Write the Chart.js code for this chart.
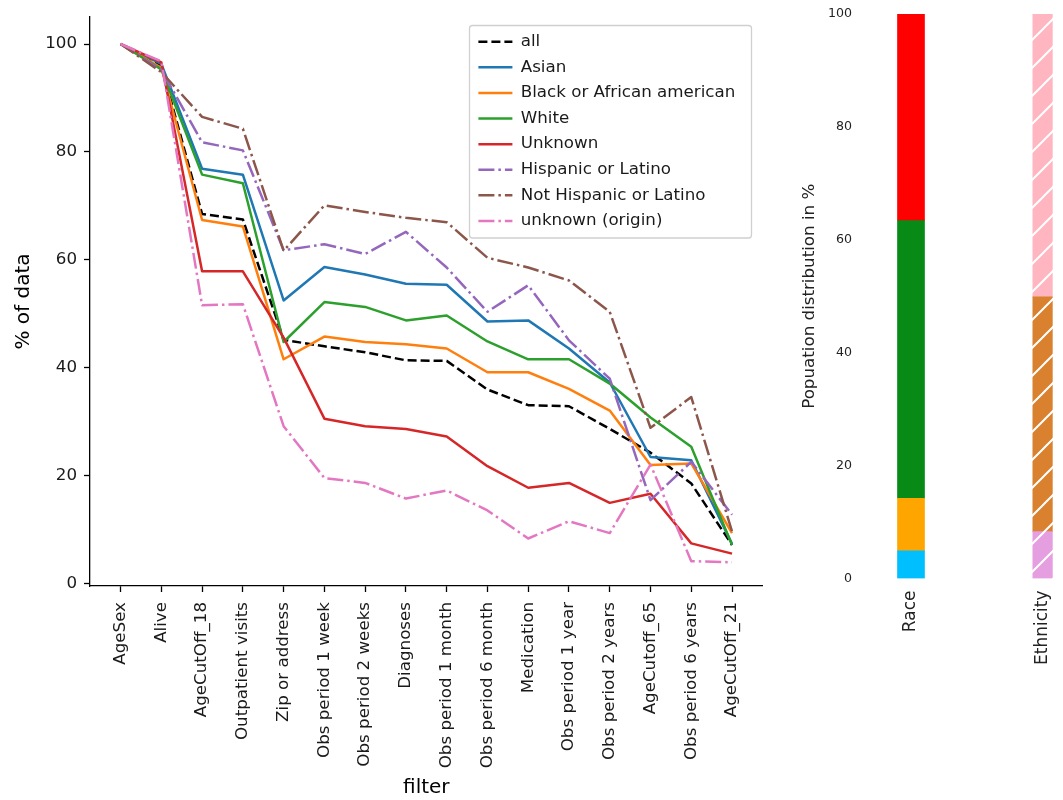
<!DOCTYPE html>
<html>
<head>
<meta charset="utf-8">
<script src="https://cdn.jsdelivr.net/npm/chart.js@4.4.0/dist/chart.umd.min.js"></script>
<style>
    body { margin: 0; background: #fff; width: 1063px; height: 800px; overflow: hidden; position: relative; }
    canvas { position: absolute; top: 0; }
</style>
</head>
<body>
<canvas id="filterChart" width="780" height="800" style="left:0"></canvas>
<canvas id="raceChart" width="180" height="800" style="left:780px"></canvas>
<canvas id="ethnicityChart" width="103" height="800" style="left:960px"></canvas>
<script>
// filtres appliqués (axe x)
const filters = ['AgeSex', 'Alive', 'AgeCutOff_18', 'Outpatient visits', 'Zip or address',
    'Obs period 1 week', 'Obs period 2 weeks', 'Diagnoses', 'Obs period 1 month',
    'Obs period 6 month', 'Medication', 'Obs period 1 year', 'Obs period 2 years',
    'AgeCutoff_65', 'Obs period 6 years', 'AgeCutOff_21'];

// % of data restant après chaque filtre
const allData      = [100, 96.0, 68.5, 67.5, 45.2, 44.0, 42.9, 41.4, 41.3, 36.0, 33.1, 32.9, 28.7, 24.3, 18.6, 7.2];
const asian        = [100, 96.3, 76.9, 75.8, 52.5, 58.7, 57.3, 55.6, 55.4, 48.6, 48.8, 43.6, 37.3, 23.5, 22.9, 7.4];
const blackAfrican = [100, 95.6, 67.4, 66.2, 41.6, 45.8, 44.8, 44.4, 43.6, 39.2, 39.2, 36.1, 32.1, 22.0, 22.3, 9.4];
const white        = [100, 95.3, 75.8, 74.2, 44.8, 52.2, 51.3, 48.8, 49.7, 44.9, 41.6, 41.6, 37.1, 30.8, 25.4, 7.2];
const unknownRace  = [100, 96.6, 57.9, 57.9, 45.6, 30.6, 29.2, 28.7, 27.3, 21.8, 17.8, 18.7, 15.0, 16.7, 7.5, 5.6];
const hispanic     = [100, 95.2, 81.8, 80.3, 61.8, 62.9, 61.1, 65.2, 58.6, 50.4, 55.3, 45.1, 38.0, 15.5, 22.6, 12.8];
const notHispanic  = [100, 94.8, 86.5, 84.3, 61.7, 70.1, 68.9, 67.8, 67.0, 60.4, 58.6, 56.2, 50.4, 28.9, 34.6, 9.7];
const unknownOrigin = [100, 96.8, 51.6, 51.8, 29.2, 19.6, 18.7, 15.8, 17.3, 13.6, 8.4, 11.6, 9.4, 22.1, 4.2, 4.0];

const yTicks = [0, 20, 40, 60, 80, 100];

// distribution de la population (barres empilées)
const raceGroups = ['Asian', 'Black or African american', 'White', 'Unknown'];
const raceShares = [4.9, 9.3, 49.2, 36.6];
const ethnicityGroups = ['Hispanic or Latino', 'Not Hispanic or Latino', 'unknown (origin)'];
const ethnicityShares = [8.3, 41.6, 50.1];
const distTicks = [0, 20, 40, 60, 80, 100];

Chart.defaults.font.family = 'DejaVu Sans';
Chart.defaults.color = '#000';

const dashed = [9, 4];
const dashDot = [16, 4, 2.5, 4];

const series = [
    { label: 'all', data: allData, color: '#000000', dash: dashed },
    { label: 'Asian', data: asian, color: '#1f77b4', dash: [] },
    { label: 'Black or African american', data: blackAfrican, color: '#ff7f0e', dash: [] },
    { label: 'White', data: white, color: '#2ca02c', dash: [] },
    { label: 'Unknown', data: unknownRace, color: '#d62728', dash: [] },
    { label: 'Hispanic or Latino', data: hispanic, color: '#9467bd', dash: dashDot },
    { label: 'Not Hispanic or Latino', data: notHispanic, color: '#8c564b', dash: dashDot },
    { label: 'unknown (origin)', data: unknownOrigin, color: '#e377c2', dash: dashDot }
];

// légende dans le graphique, avec son cadre
const legendFrame = {
    id: 'legendFrame',
    afterLayout(chart) {
        const lg = chart.legend;
        lg.left = 469.5;
        lg.top = 24.5;
        lg.right = lg.left + lg.width;
        lg.bottom = lg.top + lg.height;
    },
    beforeDraw(chart) {
        const ctx = chart.ctx;
        ctx.save();
        ctx.beginPath();
        ctx.roundRect(469.5, 25.5, 282, 212.5, 3);
        ctx.fillStyle = 'rgba(255,255,255,0.8)';
        ctx.fill();
        ctx.strokeStyle = '#d0d0d0';
        ctx.lineWidth = 1.3;
        ctx.stroke();
        ctx.restore();
    }
};

// les items de légende reprennent le tireté des lignes
function lineLabels(chart) {
    const items = Chart.defaults.plugins.legend.labels.generateLabels(chart);
    items.forEach(item => {
        const ds = chart.data.datasets[item.datasetIndex];
        item.lineDash = ds.borderDash;
        item.strokeStyle = ds.borderColor;
        item.lineWidth = ds.borderWidth;
        item.lineCap = 'butt';
    });
    return items;
}

new Chart(document.getElementById('filterChart'), {
    type: 'line',
    data: {
        datasets: series.map((s, i) => ({
            label: s.label,
            data: s.data.map((v, j) => ({ x: j, y: v })),
            borderColor: s.color,
            backgroundColor: s.color,
            borderDash: s.dash,
            borderWidth: 2.5,
            borderJoinStyle: 'round',
            pointRadius: 0,
            tension: 0,
            fill: false,
            order: series.length - i
        }))
    },
    options: {
        responsive: false,
        animation: false,
        layout: { padding: { top: 15, right: 17.4, left: 0, bottom: 0 } },
        plugins: {
            tooltip: { enabled: false },
            legend: {
                position: 'chartArea',
                align: 'start',
                labels: {
                    usePointStyle: true,
                    pointStyle: 'line',
                    pointStyleWidth: 34,
                    padding: 8.9,
                    color: '#1a1a1a',
                    font: { size: 16.7 },
                    generateLabels: lineLabels,
                    sort: (a, b) => a.datasetIndex - b.datasetIndex
                }
            }
        },
        scales: {
            x: {
                type: 'linear',
                min: -0.75,
                max: 15.75,
                afterBuildTicks: (scale) => { scale.ticks = filters.map((f, i) => ({ value: i })); },
                afterFit: (scale) => { scale.height = 214; },
                grid: { drawOnChartArea: false, drawTicks: true, tickLength: 6, tickColor: '#000', tickWidth: 1.3 },
                border: { display: true, color: '#000', width: 1.3 },
                ticks: {
                    autoSkip: false,
                    minRotation: 90,
                    maxRotation: 90,
                    padding: 10,
                    color: '#1a1a1a',
                    font: { size: 16.7 },
                    callback: (value) => filters[value]
                },
                title: { display: true, text: 'filter', font: { size: 20 }, padding: { top: 0, bottom: 0 } }
            },
            y: {
                min: -0.4,
                max: 105,
                afterBuildTicks: (scale) => { scale.ticks = yTicks.map(v => ({ value: v })); },
                afterFit: (scale) => { scale.width = 90; },
                grid: { drawOnChartArea: false, drawTicks: true, tickLength: 6, tickColor: '#000', tickWidth: 1.3 },
                border: { display: true, color: '#000', width: 1.3 },
                ticks: { padding: 7, color: '#1a1a1a', font: { size: 16.7 } },
                title: { display: true, text: '% of data', font: { size: 20 }, padding: { top: 12, bottom: 0 } }
            }
        }
    },
    plugins: [legendFrame]
});

// motif hachuré '/' pour l'ethnicité
function hatch(color) {
    const size = 28;
    const c = document.createElement('canvas');
    c.width = size;
    c.height = size;
    const g = c.getContext('2d');
    g.fillStyle = color;
    g.fillRect(0, 0, size, size);
    g.strokeStyle = '#ffffff';
    g.lineWidth = 2;
    g.beginPath();
    g.moveTo(-2, size + 2); g.lineTo(size + 2, -2);
    g.moveTo(-2, 2); g.lineTo(2, -2);
    g.moveTo(size - 2, size + 2); g.lineTo(size + 2, size - 2);
    g.stroke();
    return g.createPattern(c, 'repeat');
}

function distOptions(showAxis, padLeft) {
    return {
        responsive: false,
        animation: false,
        layout: { padding: { top: 14, right: showAxis ? 8 : 0, left: padLeft, bottom: 0 } },
        plugins: { legend: { display: false }, tooltip: { enabled: false } },
        scales: {
            x: {
                stacked: true,
                afterFit: (scale) => { scale.height = 221.5; },
                // tickLength sert d'écart entre la barre et le libellé
                grid: { display: false, drawTicks: true, tickLength: 12 },
                border: { display: false },
                ticks: { minRotation: 90, maxRotation: 90, padding: 0, color: '#222', font: { size: 17 } }
            },
            y: {
                stacked: true,
                display: showAxis,
                min: 0,
                max: 100,
                afterBuildTicks: (scale) => { scale.ticks = distTicks.map(v => ({ value: v })); },
                afterFit: (scale) => { if (showAxis) scale.width = 90; },
                grid: { display: false, drawTicks: true, tickLength: 18 },
                border: { display: false },
                ticks: { padding: 0, color: '#222', font: { size: 12.6 } },
                title: {
                    display: true,
                    text: 'Popuation distribution in %',
                    color: '#222',
                    font: { size: 16.7 },
                    padding: { top: 20, bottom: 0 }
                }
            }
        }
    };
}

const raceColors = ['#00bfff', '#ffa500', '#078a16', '#ff0000'];
new Chart(document.getElementById('raceChart'), {
    type: 'bar',
    data: {
        labels: ['Race'],
        datasets: raceGroups.map((name, i) => ({
            label: name,
            data: [raceShares[i]],
            backgroundColor: raceColors[i],
            borderWidth: 0,
            barThickness: 27
        }))
    },
    options: distOptions(true, 0)
});

const ethnicityColors = ['#e59ee0', '#d9812e', '#ffb6c1'];
new Chart(document.getElementById('ethnicityChart'), {
    type: 'bar',
    data: {
        labels: ['Ethnicity'],
        datasets: ethnicityGroups.map((name, i) => ({
            label: name,
            data: [ethnicityShares[i]],
            backgroundColor: hatch(ethnicityColors[i]),
            borderWidth: 0,
            barThickness: 27
        }))
    },
    options: distOptions(false, 72.5)
});
</script>
</body>
</html>
